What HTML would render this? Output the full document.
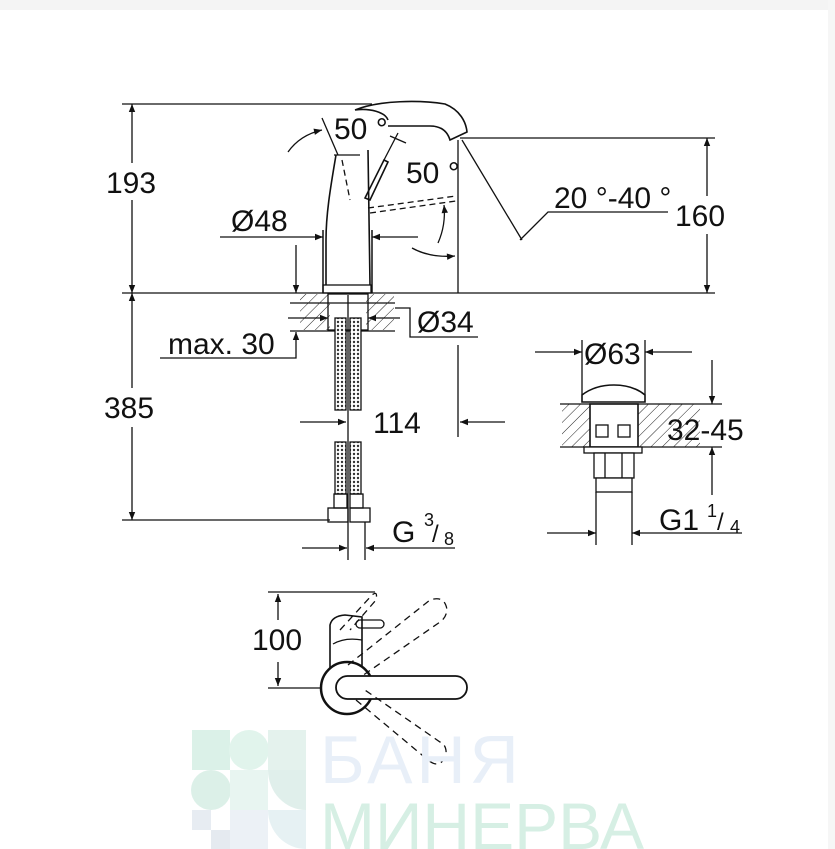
<!DOCTYPE html>
<html><head><meta charset="utf-8"><style>
html,body{margin:0;padding:0;background:#fff}
svg{display:block}
text{font-family:"Liberation Sans",sans-serif;fill:#111}
</style></head><body>
<svg width="835" height="849" viewBox="0 0 835 849" xmlns="http://www.w3.org/2000/svg">
<defs>
<marker id="a" viewBox="0 0 10 10" refX="10" refY="5" markerWidth="12" markerHeight="8" orient="auto-start-reverse" markerUnits="userSpaceOnUse"><path d="M0,1 L10,5 L0,9z" fill="#111"/></marker>
<pattern id="h" width="8" height="8" patternUnits="userSpaceOnUse" patternTransform="rotate(45)"><line x1="0" y1="0" x2="0" y2="8" stroke="#222" stroke-width="1"/></pattern>
<pattern id="br" width="4" height="4" patternUnits="userSpaceOnUse"><rect width="4" height="4" fill="#fff"/><circle cx="2" cy="2" r="1.2" fill="#333"/></pattern>
</defs>
<rect x="0" y="0" width="835" height="10" fill="#f4f4f4"/>
<rect x="828" y="0" width="7" height="849" fill="#f6f6f6"/>
<g stroke="#111" stroke-width="1.3" fill="none">
<line x1="122" y1="104" x2="372" y2="104"/>
<line x1="122" y1="293" x2="715" y2="293"/>
<line x1="132" y1="104" x2="132" y2="163" marker-start="url(#a)"/>
<line x1="132" y1="200" x2="132" y2="293" marker-end="url(#a)"/>
<line x1="132" y1="293" x2="132" y2="388" marker-start="url(#a)"/>
<line x1="132" y1="427" x2="132" y2="520" marker-end="url(#a)"/>
<line x1="122" y1="520" x2="330" y2="520"/>
<line x1="460" y1="138" x2="715" y2="138"/>
<line x1="707" y1="138" x2="707" y2="196" marker-start="url(#a)"/>
<line x1="707" y1="234" x2="707" y2="293" marker-end="url(#a)"/>
<path d="M336,155 C330,190 326,215 326,240 L326,285 M368,150 L370,285" stroke-width="1.6"/>
<line x1="334" y1="155" x2="360" y2="155"/>
<rect x="323" y="285" width="48" height="8"/>
<line x1="323" y1="230" x2="323" y2="293" stroke-width="1.5"/>
<line x1="372" y1="230" x2="372" y2="293" stroke-width="1.5"/>
<path d="M355,110 C380,100 420,100 445,104 C460,110 466,122 467,132 L450,140 C447,130 440,126 430,126 L388,126 M355,110 C370,108 385,112 388,120" stroke-width="1.6"/>
<path d="M365,198 L384,160 L388,162 L370,200z" stroke-width="1.6"/>
<line x1="384" y1="160" x2="398" y2="133"/>
<line x1="390" y1="136" x2="406" y2="143"/>
<g stroke-dasharray="6,4"><line x1="342" y1="160" x2="350" y2="200"/><line x1="368" y1="208" x2="456" y2="196"/><line x1="370" y1="213" x2="456" y2="201"/></g>
<path d="M288,152 Q300,135 322,130" marker-end="url(#a)"/>
<line x1="322" y1="118" x2="338" y2="155"/>
<path d="M438,243 Q446,225 444,205" marker-end="url(#a)"/>
<path d="M412,248 Q430,258 455,256" marker-end="url(#a)"/>
<line x1="458" y1="140" x2="458" y2="293"/>
<line x1="462" y1="140" x2="522" y2="240"/>
<polyline points="520,240 548,212 668,212"/>
<line x1="220" y1="237" x2="323" y2="237" marker-end="url(#a)"/>
<line x1="418" y1="237" x2="372" y2="237" marker-end="url(#a)"/>
<line x1="290" y1="303" x2="395" y2="303"/>
<line x1="290" y1="331" x2="395" y2="331"/>
<rect x="300" y="294" width="30" height="36" fill="url(#h)" stroke="none"/>
<rect x="366" y="294" width="28" height="36" fill="url(#h)" stroke="none"/>
<rect x="328" y="294" width="40" height="36"/>
<line x1="288" y1="318" x2="328" y2="318" marker-end="url(#a)"/>
<line x1="400" y1="318" x2="368" y2="318" marker-end="url(#a)"/>
<polyline points="395,308 410,308 410,337 478,337"/>
<polyline points="160,358 296,358 296,332" marker-end="url(#a)"/>
<line x1="296" y1="245" x2="296" y2="293" marker-end="url(#a)"/>
<rect x="335" y="318" width="11" height="92" fill="url(#br)"/>
<rect x="350" y="318" width="11" height="92" fill="url(#br)"/>
<rect x="335" y="442" width="11" height="52" fill="url(#br)"/>
<rect x="350" y="442" width="11" height="52" fill="url(#br)"/>
<rect x="334" y="494" width="13" height="14"/><rect x="350" y="494" width="13" height="14"/>
<rect x="328" y="508" width="20" height="14"/><rect x="350" y="508" width="20" height="14"/>
<line x1="348" y1="295" x2="348" y2="560"/>
<line x1="365" y1="522" x2="365" y2="560"/>
<line x1="300" y1="422" x2="346" y2="422" marker-end="url(#a)"/>
<line x1="505" y1="422" x2="460" y2="422" marker-end="url(#a)"/>
<line x1="458" y1="345" x2="458" y2="437"/>
<line x1="302" y1="548" x2="347" y2="548" marker-end="url(#a)"/>
<line x1="455" y1="548" x2="366" y2="548" marker-end="url(#a)"/>
<line x1="582" y1="340" x2="582" y2="395"/><line x1="645" y1="340" x2="645" y2="395"/>
<line x1="535" y1="352" x2="582" y2="352" marker-end="url(#a)"/>
<line x1="692" y1="352" x2="645" y2="352" marker-end="url(#a)"/>
<rect x="562" y="404" width="138" height="43" fill="url(#h)" stroke="none"/>
<line x1="560" y1="404" x2="722" y2="404"/><line x1="560" y1="447" x2="722" y2="447"/>
<path d="M582,402 L582,395 Q595,385 614,385 Q633,385 645,395 L645,402z" fill="#fff" stroke-width="1.6"/>
<rect x="590" y="404" width="48" height="43" fill="#fff" stroke-width="1.6"/>
<rect x="596" y="425" width="12" height="12"/><rect x="618" y="425" width="12" height="12"/>
<rect x="584" y="447" width="58" height="6" fill="#fff"/>
<rect x="594" y="453" width="40" height="25" fill="#fff"/>
<line x1="605" y1="453" x2="605" y2="478"/><line x1="622" y1="453" x2="622" y2="478"/>
<rect x="596" y="478" width="36" height="14" fill="#fff"/>
<line x1="596" y1="492" x2="596" y2="545"/><line x1="632" y1="492" x2="632" y2="545"/>
<line x1="712" y1="360" x2="712" y2="404" marker-end="url(#a)"/>
<line x1="712" y1="495" x2="712" y2="447" marker-end="url(#a)"/>
<line x1="547" y1="533" x2="596" y2="533" marker-end="url(#a)"/>
<line x1="742" y1="533" x2="632" y2="533" marker-end="url(#a)"/>
<line x1="268" y1="592" x2="375" y2="592"/>
<line x1="268" y1="688" x2="325" y2="688"/>
<line x1="278" y1="594" x2="278" y2="620" marker-start="url(#a)"/>
<line x1="278" y1="662" x2="278" y2="686" marker-end="url(#a)"/>
<path d="M330,668 L330,625 Q332,616 345,615 L362,617 L362,672" stroke-width="1.6"/>
<path d="M333,644 Q345,637 362,640"/>
<rect x="356" y="620" width="28" height="8" rx="4"/>
<circle cx="347" cy="688" r="26" stroke-width="2.5" fill="#fff"/>
<rect x="336" y="676" width="131" height="23" rx="11.5" fill="#fff" stroke-width="1.8"/>
<g stroke-dasharray="7,5"><path d="M348,665 L430,600 Q445,595 447,610 Q446,618 440,622 L362,676"/><path d="M356,700 L428,760 Q440,770 446,755 Q447,745 440,742 L362,688"/><path d="M340,630 L372,595 Q378,590 376,600 L350,630"/></g>
</g>
<g font-size="30">
<text x="106" y="193">193</text>
<text x="675" y="226">160</text>
<text x="104" y="418">385</text>
<text x="231" y="231">Ø48</text>
<text x="334" y="139">50 °</text>
<text x="406" y="183">50 °</text>
<text x="554" y="208">20 °-40 °</text>
<text x="417" y="332">Ø34</text>
<text x="168" y="354">max. 30</text>
<text x="373" y="433">114</text>
<text x="392" y="542">G</text><text x="424" y="526" font-size="18">3</text><text x="432" y="542" font-size="24">/</text><text x="444" y="545" font-size="18">8</text>
<text x="584" y="364">Ø63</text>
<text x="667" y="440">32-45</text>
<text x="659" y="530">G1</text><text x="707" y="517" font-size="18">1</text><text x="717" y="530" font-size="24">/</text><text x="730" y="533" font-size="18">4</text>
<text x="252" y="650">100</text>
</g>
<g opacity="0.55">
<rect x="192" y="730" width="38" height="40" fill="#bfe6d6"/>
<circle cx="249" cy="750" r="20" fill="#c9ecdd"/>
<rect x="268" y="730" width="38" height="40" fill="#cfe8e0"/>
<circle cx="211" cy="790" r="20" fill="#c0e4d6"/>
<rect x="230" y="770" width="38" height="40" fill="#d7eee6"/>
<path d="M268,770 h38 v40 a38,40 0 0 1 -38,-40z" fill="#c7e2dc"/>
<rect x="192" y="810" width="19" height="20" fill="#d5dee8"/><rect x="211" y="830" width="19" height="19" fill="#d0d9e5"/>
<rect x="230" y="810" width="38" height="39" fill="#dde7f0"/>
<path d="M268,810 h38 v39 a38,39 0 0 1 -38,-39z" fill="#d2e6ea"/>
</g>
<text x="320" y="783" font-size="68" letter-spacing="4" style="fill:#e8eff8">БАНЯ</text>
<text x="320" y="849" font-size="66" style="fill:#d6efe4">МИНЕРВА</text>
</svg>
</body></html>
